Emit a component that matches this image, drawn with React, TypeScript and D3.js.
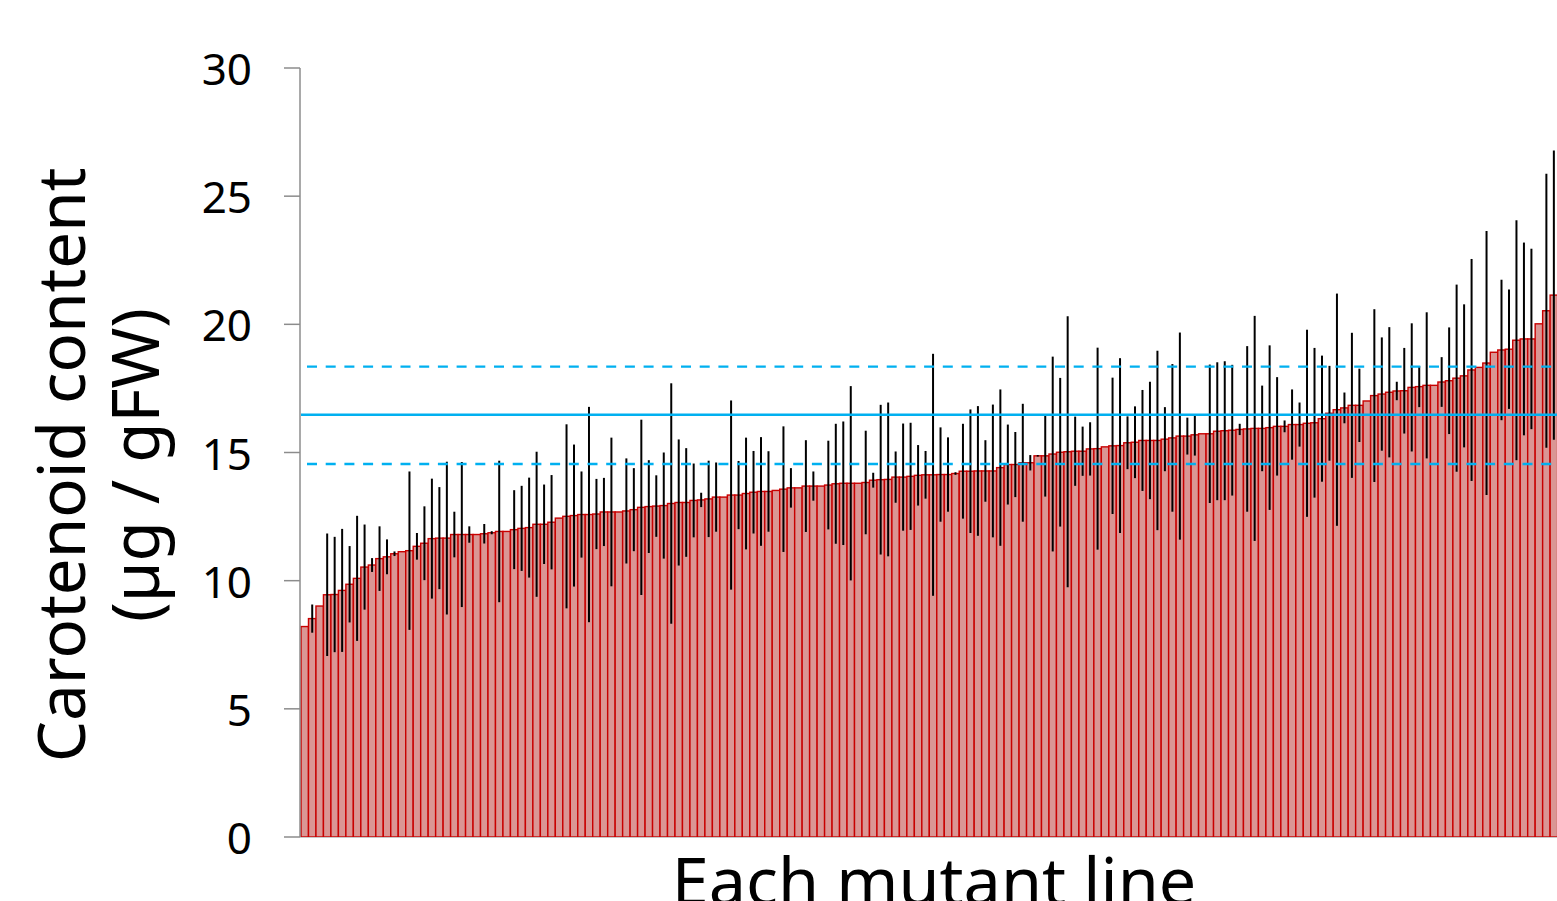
import React from "react";
import * as d3 from "d3";

// Mean carotenoid content of each mutant line (sorted ascending)
const means: number[] = [
  8.21, 8.52, 9.01, 9.45, 9.46, 9.62, 9.86, 10.09, 10.53, 10.61,
  10.86, 10.93, 11.05, 11.13, 11.17, 11.34, 11.46, 11.64, 11.66, 11.66,
  11.8, 11.8, 11.8, 11.8, 11.83, 11.87, 11.92, 11.92, 11.99, 12.04,
  12.07, 12.2, 12.2, 12.28, 12.44, 12.51, 12.54, 12.58, 12.58, 12.6,
  12.68, 12.68, 12.68, 12.72, 12.77, 12.86, 12.89, 12.91, 12.93, 13.01,
  13.05, 13.05, 13.13, 13.15, 13.19, 13.26, 13.26, 13.34, 13.34, 13.4,
  13.45, 13.48, 13.48, 13.52, 13.57, 13.62, 13.62, 13.69, 13.69, 13.69,
  13.73, 13.78, 13.8, 13.8, 13.8, 13.83, 13.92, 13.94, 13.95, 14.04,
  14.04, 14.07, 14.11, 14.13, 14.13, 14.14, 14.14, 14.18, 14.27, 14.27,
  14.28, 14.28, 14.28, 14.41, 14.53, 14.53, 14.6, 14.6, 14.87, 14.87,
  14.94, 15.01, 15.03, 15.05, 15.05, 15.14, 15.15, 15.22, 15.26, 15.27,
  15.38, 15.4, 15.47, 15.47, 15.47, 15.52, 15.57, 15.64, 15.64, 15.69,
  15.73, 15.73, 15.83, 15.85, 15.87, 15.9, 15.92, 15.94, 15.94, 15.97,
  16.02, 16.02, 16.09, 16.09, 16.14, 16.16, 16.32, 16.53, 16.67, 16.74,
  16.84, 16.84, 17.01, 17.22, 17.28, 17.35, 17.4, 17.41, 17.54, 17.57,
  17.62, 17.62, 17.75, 17.8, 17.9, 17.99, 18.22, 18.32, 18.49, 18.91,
  19.0, 19.03, 19.38, 19.43, 19.43, 20.02, 20.53, 21.14,
];

// Standard deviation of each line
const sds: number[] = [
  0, 0.55, 0, 2.39, 2.25, 2.4, 1.49, 2.44, 1.66, 0.27,
  1.26, 0.68, 0.09, 0, 3.09, 0.52, 1.44, 2.34, 1.99, 2.98,
  0.89, 2.83, 0.32, 0, 0.38, 0.06, 2.76, 0, 1.54, 1.66,
  1.95, 2.83, 1.55, 1.84, 0, 3.59, 2.77, 1.68, 4.2, 1.37,
  1.33, 2.9, 0, 2.05, 1.62, 3.42, 1.81, 1.2, 2.07, 4.69,
  2.46, 2.12, 1.44, 0.28, 1.49, 1.35, 0, 3.69, 1.33, 2.18,
  1.61, 2.12, 1.57, 0, 2.45, 0.77, 0, 1.79, 0.57, 0,
  1.73, 2.34, 2.41, 3.79, 0, 2.02, 0.29, 2.92, 3.0, 1.0,
  2.09, 2.09, 1.18, 0.93, 4.72, 1.84, 1.45, 0.05, 1.85, 2.41,
  2.53, 1.2, 2.59, 3.05, 1.56, 1.27, 2.3, 0.3, 0.03, 1.59,
  3.8, 2.9, 5.29, 1.35, 0.96, 1.04, 3.94, 0, 2.66, 3.41,
  1.03, 1.4, 1.97, 2.29, 3.5, 1.25, 2.88, 4.04, 0.72, 0.81,
  0, 2.7, 2.69, 2.71, 2.55, 0.22, 3.23, 4.39, 1.67, 3.21,
  1.92, 0.23, 1.37, 0.86, 3.65, 2.92, 2.46, 1.85, 4.53, 0.6,
  2.83, 1.43, 0, 3.37, 2.21, 2.54, 0.36, 1.67, 2.5, 0.8,
  2.85, 0, 0.97, 2.08, 3.65, 2.79, 4.33, 0, 5.15, 0,
  2.74, 2.33, 4.68, 3.76, 3.52, 0, 5.34, 5.64,
];

// Reference lines: control mean and ± SD
const controlMean = 16.47;
const controlBand: number[] = [14.55, 18.35];

const yTicks: number[] = [0, 5, 10, 15, 20, 25, 30];
const yTitleLines: string[] = ["Carotenoid content", "(µg / gFW)"];
const xTitle = "Each mutant line";

export default function App() {
  const W = 1557;
  const H = 901;
  const left = 301;
  const right = 1557.6;
  const top = 68;
  const bottom = 837;

  const idx = means.map((_, i) => i);
  const x = d3.scaleBand<number>().domain(idx).range([left, right]).padding(0);
  const y = d3.scaleLinear().domain([0, 30]).range([bottom, top]);
  const bw = x.bandwidth();

  const font = "'Noto Sans', 'DejaVu Sans', sans-serif";
  const axisColor = "#8c8c8c";
  const blue = "#00b0f0";

  return (
    <div style={{ position: "fixed", left: 0, top: 0, width: W, height: H, background: "#fff" }}>
      <svg width={W} height={H} style={{ display: "block" }}>
        {/* bars */}
        <g>
          {means.map((v, i) => (
            <rect
              key={i}
              x={x(i)!}
              y={y(v)}
              width={bw}
              height={y(0) - y(v)}
              fill="#da9694"
              stroke="#c80000"
              strokeWidth={1.4}
            />
          ))}
        </g>
        {/* error bars */}
        <g>
          {means.map((v, i) =>
            sds[i] > 0 ? (
              <line
                key={i}
                x1={x(i)! + bw / 2}
                x2={x(i)! + bw / 2}
                y1={y(v + sds[i])}
                y2={y(v - sds[i])}
                stroke="#000"
                strokeWidth={2}
              />
            ) : null
          )}
        </g>
        {/* reference lines */}
        <line x1={left} x2={W} y1={y(controlMean)} y2={y(controlMean)} stroke={blue} strokeWidth={2.4} />
        {controlBand.map((v, i) => (
          <line
            key={i}
            x1={left + 6}
            x2={W}
            y1={y(v)}
            y2={y(v)}
            stroke={blue}
            strokeWidth={2.4}
            strokeDasharray="10,8.7"
          />
        ))}
        {/* axes */}
        <line x1={300} x2={300} y1={y(30)} y2={y(0)} stroke={axisColor} strokeWidth={1.5} />
        <line x1={300} x2={W} y1={y(0) + 0.5} y2={y(0) + 0.5} stroke="#c8c8c8" strokeWidth={1} />
        {yTicks.map((t) => (
          <g key={t}>
            <line x1={284} x2={300} y1={y(t)} y2={y(t)} stroke={axisColor} strokeWidth={1.5} />
            <text
              x={252}
              y={y(t)}
              textAnchor="end"
              dominantBaseline="central"
              fontFamily={font}
              fontSize={44}
              fill="#000"
            >
              {t}
            </text>
          </g>
        ))}
        {/* y title */}
        <g transform={`translate(0, ${(168 + 762) / 2}) rotate(-90)`}>
          {yTitleLines.map((s, i) => (
            <text
              key={i}
              x={0}
              y={85 + i * 74}
              textAnchor="middle"
              fontFamily={font}
              fontSize={65.5}
              fill="#000"
            >
              {s}
            </text>
          ))}
        </g>
        {/* x title (cut off by the bottom edge, as in the reference) */}
        <text x={934} y={905} textAnchor="middle" fontFamily={font} fontSize={66.5} fill="#000">
          {xTitle}
        </text>
      </svg>
    </div>
  );
}
